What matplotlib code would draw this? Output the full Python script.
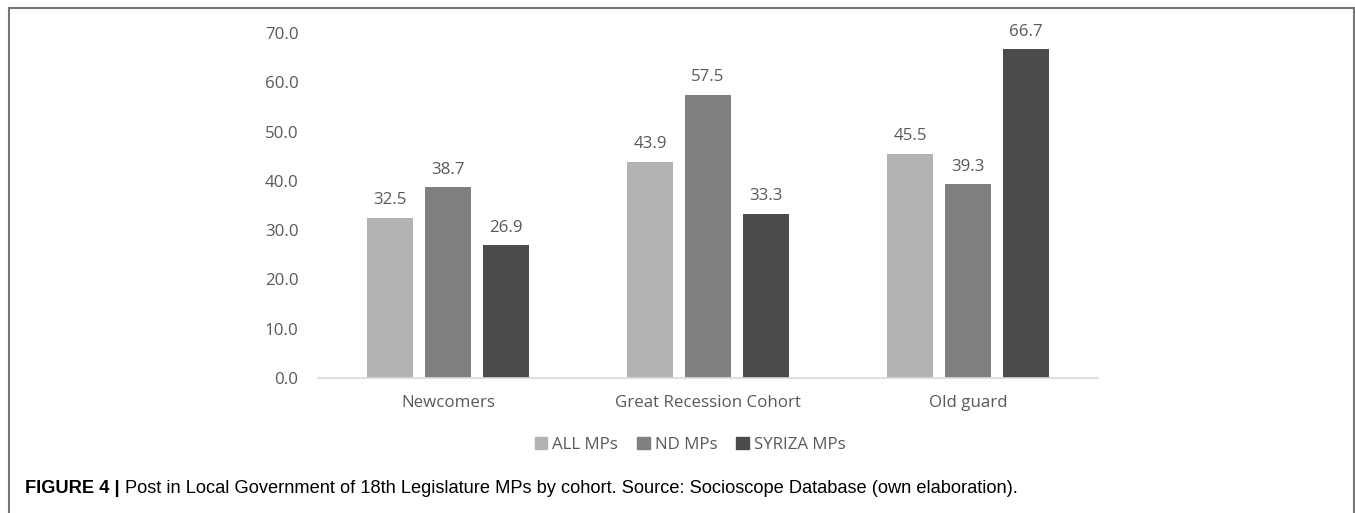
import matplotlib.pyplot as plt
import numpy as np
from matplotlib.lines import Line2D
from matplotlib.patches import Patch

cohorts = ["Newcomers", "Great Recession Cohort", "Old guard"]
series = ["ALL MPs", "ND MPs", "SYRIZA MPs"]
all_mps = [32.5, 43.9, 45.5]
nd_mps = [38.7, 57.5, 39.3]
syriza_mps = [26.9, 33.3, 66.7]
colors = ["#b3b3b3", "#808080", "#4b4b4b"]
caption_bold = "FIGURE 4 |"
caption = "Post in Local Government of 18th Legislature MPs by cohort. Source: Socioscope Database (own elaboration)."

W, H = 1355, 513
fig = plt.figure(figsize=(W / 100, H / 100), dpi=100)
ax = fig.add_axes([318 / W, 1 - 378 / H, 780 / W, 345 / H])

txt = "#595959"
font = "Open Sans"
fs = 12.2
x = np.arange(len(cohorts))
width = 0.177
step = 0.223
for i, (vals, c) in enumerate(zip([all_mps, nd_mps, syriza_mps], colors)):
    bars = ax.bar(x + (i - 1) * step, vals, width, color=c, zorder=2)
    for b, v in zip(bars, vals):
        ax.annotate(f"{v:.1f}", (b.get_x() + b.get_width() / 2, v),
                    xytext=(0, 7), textcoords="offset points",
                    ha="center", va="bottom", fontsize=fs, color=txt,
                    family=font)

ax.set_xlim(-0.5, 2.5)
ax.set_ylim(0, 70)
ax.set_yticks(np.arange(0, 71, 10))
ax.set_yticklabels([f"{v:.1f}" for v in np.arange(0, 71, 10)])
ax.set_xticks(x)
ax.set_xticklabels(cohorts)
for s in ["top", "right", "left"]:
    ax.spines[s].set_visible(False)
ax.spines["bottom"].set_color("#d9d9d9")
ax.spines["bottom"].set_linewidth(1.2)
ax.tick_params(length=0, labelsize=fs, labelcolor=txt)
ax.tick_params(axis="y", pad=14)
ax.tick_params(axis="x", pad=12)
for lab in ax.get_xticklabels() + ax.get_yticklabels():
    lab.set_family(font)

handles = [Patch(color=c) for c in colors]
fig.legend(handles, series, loc="center", bbox_to_anchor=(690 / W, 1 - 445 / H),
           ncol=3, frameon=False, handlelength=0.75, handleheight=0.75,
           handletextpad=0.3, columnspacing=1.1,
           prop={"family": font, "size": fs}, labelcolor=txt)

# caption
t1 = fig.text(25 / W, 1 - 493 / H, caption_bold, fontsize=13.15, fontweight="bold",
              family="Liberation Sans", va="baseline")
ax.annotate(caption, xy=(1, 0), xycoords=t1, xytext=(4, 0),
            textcoords="offset points", va="bottom", ha="left",
            fontsize=13.15, family="Liberation Sans", annotation_clip=False)

# frame around figure
bc = "#777777"
fig.add_artist(Line2D([9 / W, 9 / W], [0, 1 - 8 / H], color=bc, lw=1.5))
fig.add_artist(Line2D([9 / W, 1354 / W], [1 - 8 / H, 1 - 8 / H], color=bc, lw=1.5))
fig.add_artist(Line2D([1354 / W, 1354 / W], [0, 1 - 8 / H], color=bc, lw=1.5))

fig.savefig("out.png", dpi=100, facecolor="white")
